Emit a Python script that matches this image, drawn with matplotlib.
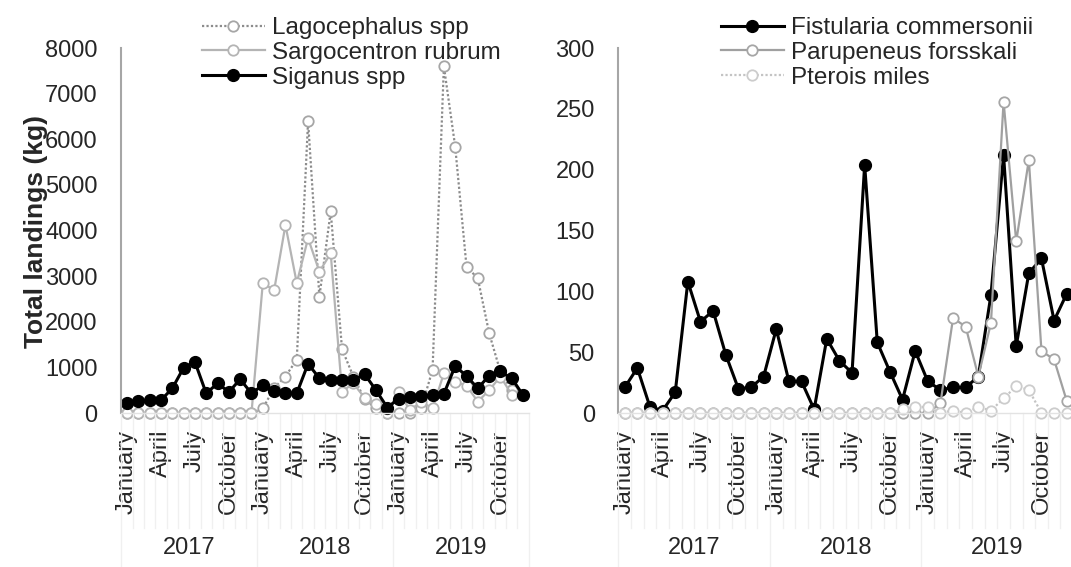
import numpy as np
import matplotlib.pyplot as plt
import matplotlib.transforms as mtransforms
from matplotlib.lines import Line2D

plt.rcParams['font.family'] = ['Liberation Sans', 'DejaVu Sans']

# monthly landings, Jan 2017 .. Dec 2019
months = ['January', '', '', 'April', '', '', 'July', '', '', 'October', '', ''] * 3
years = ['2017', '2018', '2019']

lagocephalus = [0, 0, 0, 0, 0, 0, 0, 0, 0, 0, 0, 0,
                100, 550, 800, 1170, 6400, 2550, 4420, 1400, 800, 300, 100, 0,
                0, 0, 100, 950, 7600, 5840, 3210, 2950, 1750, 900, 500, 400]
sargocentron = [0, 0, 0, 0, 0, 0, 0, 0, 0, 0, 0, 0,
                2850, 2690, 4120, 2850, 3830, 3100, 3500, 470, 650, 330, 200, 0,
                470, 60, 250, 100, 870, 690, 600, 250, 500, 800, 400, 400]
siganus = [220, 260, 280, 280, 540, 990, 1120, 430, 650, 460, 740, 430,
           610, 480, 440, 430, 1080, 760, 720, 730, 720, 850, 500, 120,
           310, 360, 380, 390, 420, 1030, 810, 540, 820, 910, 760, 390]

fistularia = [21, 37, 5, 2, 17, 108, 75, 84, 48, 20, 21, 30,
              69, 26, 26, 3, 61, 43, 33, 204, 58, 34, 11, 51,
              26, 19, 21, 21, 30, 97, 212, 55, 115, 127, 76, 98]
parupeneus = [0, 0, 0, 0, 0, 0, 0, 0, 0, 0, 0, 0,
              0, 0, 0, 0, 0, 0, 0, 0, 0, 0, 0, 0,
              0, 8, 78, 71, 30, 74, 256, 141, 208, 51, 44, 10]
pterois = [0, 0, 0, 0, 0, 0, 0, 0, 0, 0, 0, 0,
           0, 0, 0, 0, 0, 0, 0, 0, 0, 0, 3, 5,
           5, 0, 2, 0, 5, 2, 12, 22, 19, 0, 0, 0]

x = np.arange(36)
FS = 17
TXT = '#262626'

fig = plt.figure(figsize=(10.71, 5.67), dpi=100)
ax1 = fig.add_axes([0.1133, 0.2716, 0.3804, 0.6437])
ax2 = fig.add_axes([0.5774, 0.2716, 0.4245, 0.6437])

open_kw = dict(marker='o', markersize=7.5, markerfacecolor='white', markeredgewidth=1.3)

ax1.plot(x, lagocephalus, color='#8c8c8c', linestyle=(0, (1, 1)), lw=1.6,
         markeredgecolor='#a6a6a6', label='Lagocephalus spp', **open_kw)
ax1.plot(x, sargocentron, color='#b4b4b4', lw=1.6,
         markeredgecolor='#b4b4b4', label='Sargocentron rubrum', **open_kw)
ax1.plot(x, siganus, color='black', lw=2.2, marker='o', markersize=8.5,
         label='Siganus spp')

ax2.plot(x, fistularia, color='black', lw=2.2, marker='o', markersize=8.5,
         label='Fistularia commersonii')
ax2.plot(x, parupeneus, color='#a0a0a0', lw=1.6,
         markeredgecolor='#a6a6a6', label='Parupeneus forsskali', **open_kw)
ax2.plot(x, pterois, color='#c4c4c4', linestyle=(0, (1, 1)), lw=1.6,
         markeredgecolor='#cccccc', label='Pterois miles', **open_kw)

for ax, top, step in [(ax1, 8000, 1000), (ax2, 300, 50)]:
    ax.set_xlim(-0.5, 35.5)
    ax.set_ylim(0, top)
    ax.set_yticks(np.arange(0, top + 1, step))
    ax.tick_params(axis='y', length=0, pad=17, labelsize=FS, labelcolor=TXT)
    ax.set_xticks(x)
    ax.set_xticklabels(months, rotation=90, fontsize=FS, color=TXT)
    ax.tick_params(axis='x', length=0, pad=12)
    for s in ['top', 'right']:
        ax.spines[s].set_visible(False)
    ax.spines['left'].set_color('#a6a6a6')
    ax.spines['left'].set_linewidth(1.5)
    ax.spines['bottom'].set_color('#e3e3e3')
    ax.spines['bottom'].set_linewidth(1.0)
    for ln in ax.get_lines():
        ln.set_clip_on(False)

    # multi-level category axis: faint separators and year labels
    tr = mtransforms.blended_transform_factory(ax.transData, fig.transFigure)
    y_axis = 0.2716
    for i in range(37):
        xb = i - 0.5
        y_end = 0.0 if i % 12 == 0 else 0.069
        ax.add_line(Line2D([xb, xb], [y_axis, y_end], transform=tr,
                           color='#f0f0f0', lw=1.0, clip_on=False))
    for k, yr in enumerate(years):
        ax.text(5.5 + 12 * k, 0.0335, yr, transform=tr, ha='center',
                va='center', fontsize=FS, color=TXT)

fig.text(0.034, 0.592, 'Total landings (kg)', rotation=90, ha='center',
         va='center', fontsize=19, fontweight='bold', color=TXT)

leg_kw = dict(loc='upper left', frameon=False, fontsize=FS + 0.5, borderpad=0,
              borderaxespad=0, handlelength=2.6, handletextpad=0.3,
              labelspacing=0.12, bbox_transform=fig.transFigure)
leg1 = ax1.legend(bbox_to_anchor=(0.1885, 0.97), **leg_kw)
leg2 = ax2.legend(bbox_to_anchor=(0.673, 0.97), **leg_kw)
for leg in (leg1, leg2):
    for t in leg.get_texts():
        t.set_color(TXT)

fig.savefig('out.png', dpi=100)
